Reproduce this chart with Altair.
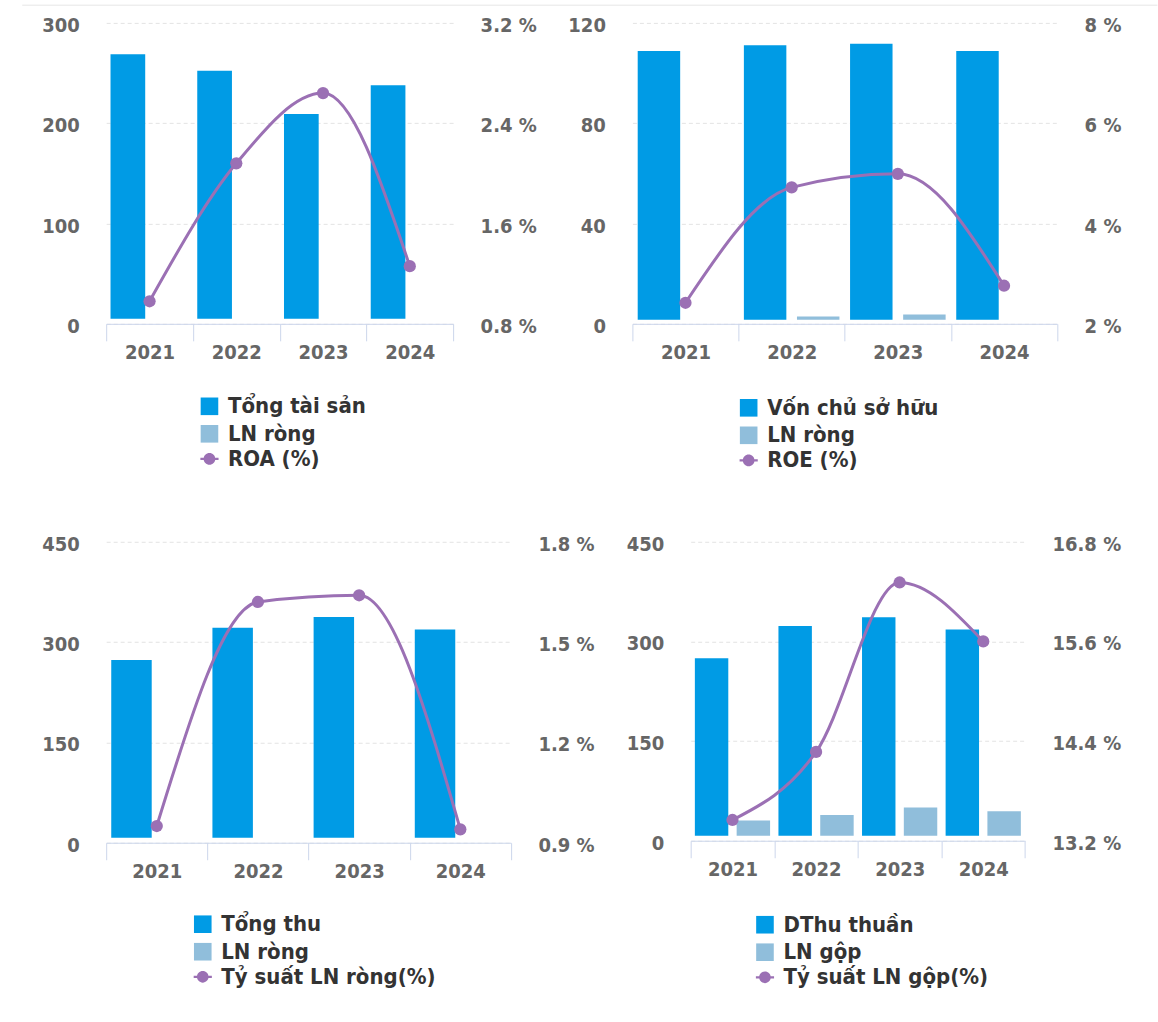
import altair as alt
import pandas as pd

# ---- data -------------------------------------------------------------
years = ["2021", "2022", "2023", "2024"]

tong_tai_san = [268.7, 252.3, 209.1, 237.8]
von_chu_so_huu = [108.8, 111.1, 111.7, 108.8]
tong_thu = [273.1, 321.4, 337.4, 319.0]
dthu_thuan = [274.6, 323.2, 336.3, 317.8]
ln_rong = [1.2, 2.9, 3.7, 1.3]
ln_gop = [30.4, 38.8, 50.0, 44.4]

roa = [0.98, 2.08, 2.64, 1.26]
roe = [2.42, 4.72, 4.99, 2.76]
ty_suat_ln_rong = [0.95, 1.62, 1.64, 0.94]
ty_suat_ln_gop = [13.45, 14.27, 16.31, 15.60]

ticks_tai_san = [0, 100, 200, 300]
ticks_roa = [0.8, 1.6, 2.4, 3.2]
ticks_von = [0, 40, 80, 120]
ticks_roe = [2, 4, 6, 8]
ticks_thu = [0, 150, 300, 450]
ticks_ln_rong = [0.9, 1.2, 1.5, 1.8]
ticks_dthu = [0, 150, 300, 450]
ticks_ln_gop = [13.2, 14.4, 15.6, 16.8]

# ---- style ------------------------------------------------------------
FONT = "DejaVu Sans Condensed, DejaVu Sans, sans-serif"
BLUE = "#009be5"
LIGHT = "#90bedb"
PURPLE = "#9b70b4"
AXIS_LINE = "#ccd6eb"
GRID = "#e3e3e3"
TICK_LABEL = "#666666"
LEGEND_LABEL = "#333333"

# circle marker with short line stubs, as used for the ratio series key
LINE_KEY = ("M-1,-0.13L-0.62,-0.13L-0.62,0.13L-1,0.13Z"
            "M0.62,-0.13L1,-0.13L1,0.13L0.62,0.13Z"
            "M0.64,0A0.64,0.64,0,1,1,-0.64,0A0.64,0.64,0,1,1,0.64,0Z")


def label_style():
    return dict(labelFont=FONT, labelFontSize=20, labelFontWeight="bold",
                labelColor=TICK_LABEL)


def legend_style():
    return dict(title=None, padding=0, symbolStrokeWidth=0, labelOffset=7.5,
                labelFont=FONT, labelFontSize=22, labelFontWeight="bold",
                labelColor=LEGEND_LABEL, labelLimit=400)


def panel(main_name, main_vals, sub_name, sub_vals, ratio_name, ratio_vals,
          left_ticks, right_ticks, right_fmt, floor, width, height,
          legend_x, legend_y, extra_layers=()):
    bars = pd.DataFrame({
        "year": years * 2,
        "series": [main_name] * 4 + [sub_name] * 4,
        "value": list(main_vals) + list(sub_vals),
    })
    ratio = pd.DataFrame({"year": years, "series": [ratio_name] * 4,
                          "ratio": ratio_vals})

    x_axis = alt.Axis(title=None, labelAngle=0, grid=False,
                      domainColor=AXIS_LINE, domainWidth=1,
                      tickColor=AXIS_LINE, tickWidth=1, tickSize=17,
                      tickBand="extent", labelPadding=1.5,
                      labelBaseline="top", **label_style())
    x_enc = alt.X("year:N", sort=years, title=None,
                  scale=alt.Scale(paddingInner=0, paddingOuter=0),
                  axis=x_axis)

    left_axis = alt.Axis(orient="left", values=left_ticks, title=None,
                         domain=False, ticks=False, grid=True,
                         gridColor=GRID, gridDash=[4, 3], gridWidth=1,
                         labelPadding=27, labelOffset=2.5, format="d",
                         **label_style())
    right_axis = alt.Axis(orient="right", values=right_ticks, title=None,
                          domain=False, ticks=False, grid=False,
                          labelPadding=27, labelOffset=2.5,
                          labelExpr=f"format(datum.value, '{right_fmt}') + ' %'",
                          **label_style())
    right_scale = alt.Scale(domain=[right_ticks[0], right_ticks[-1]], nice=False,
                            zero=False)

    bar_layer = (
        alt.Chart(bars)
        .transform_calculate(top=f"max(datum.value, {floor})")
        .mark_bar(strokeWidth=0)
        .encode(
            x=x_enc,
            xOffset=alt.XOffset("series:N", sort=[main_name, sub_name],
                                scale=alt.Scale(paddingInner=0.2,
                                                paddingOuter=0.1)),
            y=alt.Y("top:Q", title=None,
                    scale=alt.Scale(domain=[left_ticks[0], left_ticks[-1]],
                                    nice=False),
                    axis=left_axis),
            y2=alt.datum(floor),
            color=alt.Color(
                "series:N",
                scale=alt.Scale(domain=[main_name, sub_name],
                                range=[BLUE, LIGHT]),
                legend=alt.Legend(
                    orient="none", legendX=legend_x, legendY=legend_y,
                    direction="vertical", symbolType="square",
                    symbolSize=310, rowPadding=5.5, **legend_style()),
            ),
        )
    )

    line_layer = (
        alt.Chart(ratio)
        .mark_line(color=PURPLE, strokeWidth=3, interpolate="monotone")
        .encode(x=x_enc,
                y=alt.Y("ratio:Q", title=None, scale=right_scale,
                        axis=right_axis))
    )
    point_layer = (
        alt.Chart(ratio)
        .mark_circle(size=150, opacity=1)
        .encode(
            x=x_enc,
            y=alt.Y("ratio:Q", title=None, scale=right_scale, axis=right_axis),
            fill=alt.Fill(
                "series:N",
                scale=alt.Scale(domain=[ratio_name], range=[PURPLE]),
                legend=alt.Legend(
                    orient="none", legendX=legend_x,
                    legendY=legend_y + 52.6, symbolType=LINE_KEY,
                    symbolSize=330, **legend_style()),
            ),
        )
    )

    right_layers = alt.layer(line_layer, point_layer)
    return (
        alt.layer(*extra_layers, bar_layer, right_layers)
        .resolve_scale(y="independent")
        .properties(width=width, height=height)
    )


def independent(c):
    return (c.resolve_scale(color="independent", fill="independent",
                            xOffset="independent")
             .resolve_legend(color="independent", fill="independent"))


# thin separator across the top of the page
separator = (
    alt.Chart(pd.DataFrame({"k": [0]}))
    .mark_rule(color="#e6e6e6", strokeWidth=1)
    .encode(x=alt.value(-83.9), x2=alt.value(1051.4), y=alt.value(-17.7))
)

p1 = panel("Tổng tài sản", tong_tai_san, "LN ròng", ln_rong, "ROA (%)", roa,
           ticks_tai_san, ticks_roa, ".1f", 5, 347, 301, 92.3, 372.5,
           extra_layers=(separator,))
p2 = panel("Vốn chủ sở hữu", von_chu_so_huu, "LN ròng", ln_rong, "ROE (%)", roe,
           ticks_von, ticks_roe, ".0f", 1.6, 424.8, 301, 105.3, 374)
p3 = panel("Tổng thu", tong_thu, "LN ròng", ln_rong, "Tỷ suất LN ròng(%)",
           ty_suat_ln_rong, ticks_thu, ticks_ln_rong, ".1f", 7.5, 404.8, 301,
           85.6, 371.5)
p4 = panel("DThu thuần", dthu_thuan, "LN gộp", ln_gop, "Tỷ suất LN gộp(%)",
           ty_suat_ln_gop, ticks_dthu, ticks_ln_gop, ".1f", 7.5, 334.4, 299,
           63.3, 372)

row1 = independent(alt.hconcat(p1, p2, spacing=179.3, bounds="flush"))
row2 = independent(alt.hconcat(p3, p4, spacing=179.6, bounds="flush"))

chart = (
    independent(alt.vconcat(row1, row2, spacing=62))
    .properties(padding={"left": 21.2, "top": 3.8, "right": 0, "bottom": 0},
                background="white")
    .configure_view(stroke=None)
)

chart.save("out.html", embed_options={"renderer": "svg", "actions": False})
